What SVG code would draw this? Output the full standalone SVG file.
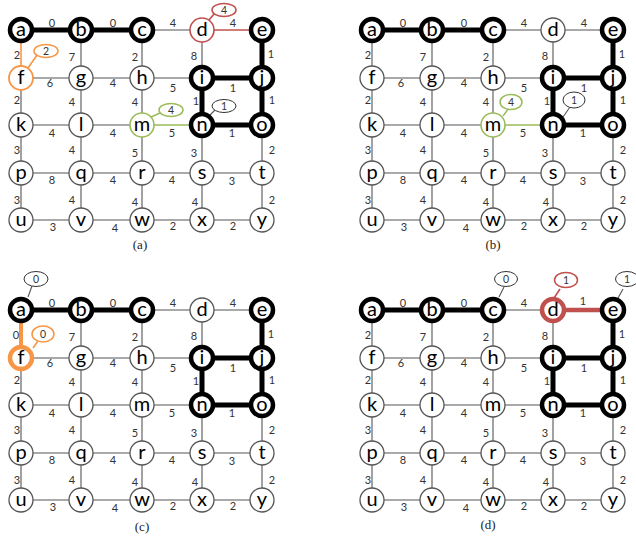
<svg xmlns="http://www.w3.org/2000/svg" width="636" height="541" viewBox="0 0 636 541">
<style>
line{stroke-linecap:butt}
.e{stroke:#555;stroke-width:1.1}
.eb{stroke:#000;stroke-width:5}
.er{stroke:#C0504D;stroke-width:1.6}
.erb{stroke:#C0504D;stroke-width:4.5}
.eo{stroke:#F79646;stroke-width:1.6}
.eob{stroke:#F79646;stroke-width:4}
.eg{stroke:#9BBB59;stroke-width:1.4}
.n{fill:#fff;stroke:#555;stroke-width:1.3}
.nb{fill:#fff;stroke:#000;stroke-width:4.5}
.nr{fill:#fff;stroke:#C0504D;stroke-width:1.6}
.nrb{fill:#fff;stroke:#C0504D;stroke-width:4.5}
.no{fill:#fff;stroke:#F79646;stroke-width:1.8}
.nob{fill:#fff;stroke:#F79646;stroke-width:4.5}
.ng{fill:#fff;stroke:#9BBB59;stroke-width:1.6}
.t{font-family:Lato,"DejaVu Sans",sans-serif;font-size:20px;text-anchor:middle;fill:#000}
.w text{font-family:Lato,"DejaVu Sans",sans-serif;font-size:11px;text-anchor:middle;fill:#333}
.cap{font-family:"Liberation Serif",serif;font-size:13px;text-anchor:middle;fill:#222}
.ck{fill:#fff;stroke:#333;stroke-width:1}
.cr{fill:#fff;stroke:#C0504D;stroke-width:1.5}
.co{fill:#fff;stroke:#F79646;stroke-width:1.5}
.cg{fill:#fff;stroke:#9BBB59;stroke-width:1.5}
.ct{font-family:Lato,"DejaVu Sans",sans-serif;font-size:10.5px;text-anchor:middle;fill:#333}
</style>
<rect width="636" height="541" fill="#fff"/>

<!-- ================= PANEL A ================= -->
<g id="panel-a">
<g id="pa-connectors">
<line class="eb" x1="21" y1="30" x2="81" y2="30"/>
<line class="eb" x1="81" y1="30" x2="142" y2="30"/>
<line class="e" x1="142" y1="30" x2="202" y2="30"/>
<line class="er" x1="202" y1="30" x2="262" y2="30"/>
<line class="e" x1="21" y1="78" x2="81" y2="78"/>
<line class="e" x1="81" y1="78" x2="142" y2="78"/>
<line class="e" x1="142" y1="78" x2="202" y2="78"/>
<line class="eb" x1="202" y1="78" x2="262" y2="78"/>
<line class="e" x1="21" y1="125" x2="81" y2="125"/>
<line class="e" x1="81" y1="125" x2="142" y2="125"/>
<line class="eg" x1="142" y1="125" x2="202" y2="125"/>
<line class="eb" x1="202" y1="125" x2="262" y2="125"/>
<line class="e" x1="21" y1="173" x2="81" y2="173"/>
<line class="e" x1="81" y1="173" x2="142" y2="173"/>
<line class="e" x1="142" y1="173" x2="202" y2="173"/>
<line class="e" x1="202" y1="173" x2="262" y2="173"/>
<line class="e" x1="21" y1="220" x2="81" y2="220"/>
<line class="e" x1="81" y1="220" x2="142" y2="220"/>
<line class="e" x1="142" y1="220" x2="202" y2="220"/>
<line class="e" x1="202" y1="220" x2="262" y2="220"/>
<line class="eo" x1="21" y1="30" x2="21" y2="78"/>
<line class="e" x1="81" y1="30" x2="81" y2="78"/>
<line class="e" x1="142" y1="30" x2="142" y2="78"/>
<line class="e" x1="202" y1="30" x2="202" y2="78"/>
<line class="eb" x1="262" y1="30" x2="262" y2="78"/>
<line class="e" x1="21" y1="78" x2="21" y2="125"/>
<line class="e" x1="81" y1="78" x2="81" y2="125"/>
<line class="e" x1="142" y1="78" x2="142" y2="125"/>
<line class="eb" x1="202" y1="78" x2="202" y2="125"/>
<line class="eb" x1="262" y1="78" x2="262" y2="125"/>
<line class="e" x1="21" y1="125" x2="21" y2="173"/>
<line class="e" x1="81" y1="125" x2="81" y2="173"/>
<line class="e" x1="142" y1="125" x2="142" y2="173"/>
<line class="e" x1="202" y1="125" x2="202" y2="173"/>
<line class="e" x1="262" y1="125" x2="262" y2="173"/>
<line class="e" x1="21" y1="173" x2="21" y2="220"/>
<line class="e" x1="81" y1="173" x2="81" y2="220"/>
<line class="e" x1="142" y1="173" x2="142" y2="220"/>
<line class="e" x1="202" y1="173" x2="202" y2="220"/>
<line class="e" x1="262" y1="173" x2="262" y2="220"/>
</g>
<g id="pa-weights" class="w">
<text x="52" y="27">0</text><text x="113" y="27">0</text><text x="173" y="27">4</text><text x="233" y="27">4</text>
<text x="50" y="87">6</text><text x="113" y="87">4</text><text x="173" y="92">5</text><text x="233" y="92">1</text>
<text x="52" y="137">4</text><text x="113" y="137">4</text><text x="172" y="137">5</text><text x="232" y="137">1</text>
<text x="52" y="184">8</text><text x="113" y="184">4</text><text x="172" y="184">4</text><text x="232" y="185">3</text>
<text x="53" y="231">3</text><text x="115" y="232">4</text><text x="173" y="230">2</text><text x="233" y="230">2</text>
<text x="17" y="59">2</text><text x="72" y="61">7</text><text x="135" y="61">2</text><text x="194" y="60">8</text><text x="271" y="58">1</text>
<text x="17" y="104">2</text><text x="72" y="106">4</text><text x="135" y="106">4</text><text x="196" y="105">1</text><text x="272" y="104">1</text>
<text x="17" y="154">3</text><text x="72" y="154">4</text><text x="135" y="157">5</text><text x="194" y="157">3</text><text x="272" y="154">2</text>
<text x="17" y="204">3</text><text x="72" y="204">4</text><text x="135" y="206">4</text><text x="195" y="206">4</text><text x="272" y="204">2</text>
</g>
<g id="pa-callouts">
<line class="er" x1="208" y1="21" x2="215" y2="13"/><ellipse class="cr" cx="224" cy="10" rx="12" ry="6.5"/><text class="ct" x="224" y="14">4</text>
<line class="eo" x1="28" y1="68" x2="37" y2="55"/><ellipse class="co" cx="46" cy="51" rx="12" ry="6.5"/><text class="ct" x="46" y="55">2</text>
<line class="eg" x1="151" y1="117" x2="160" y2="113"/><ellipse class="cg" cx="171" cy="110" rx="12" ry="6.5"/><text class="ct" x="171" y="114">4</text>
<line class="e" x1="210" y1="115" x2="216" y2="109"/><ellipse class="ck" cx="224" cy="106" rx="12" ry="6.5"/><text class="ct" x="224" y="110">1</text>
</g>
<g id="pa-a"><circle class="nb" cx="21" cy="30" r="11"/><text class="t" x="21" y="36">a</text></g>
<g id="pa-b"><circle class="nb" cx="81" cy="30" r="11"/><text class="t" x="81" y="36">b</text></g>
<g id="pa-c"><circle class="nb" cx="142" cy="30" r="11"/><text class="t" x="142" y="36">c</text></g>
<g id="pa-d"><circle class="nr" cx="202" cy="30" r="12"/><text class="t" x="202" y="36">d</text></g>
<g id="pa-e"><circle class="nb" cx="262" cy="30" r="11"/><text class="t" x="262" y="36">e</text></g>
<g id="pa-f"><circle class="no" cx="21" cy="78" r="12"/><text class="t" x="21" y="84">f</text></g>
<g id="pa-g"><circle class="n" cx="81" cy="78" r="12"/><text class="t" x="81" y="84">g</text></g>
<g id="pa-h"><circle class="n" cx="142" cy="78" r="12"/><text class="t" x="142" y="84">h</text></g>
<g id="pa-i"><circle class="nb" cx="202" cy="78" r="11"/><text class="t" x="202" y="84">i</text></g>
<g id="pa-j"><circle class="nb" cx="262" cy="78" r="11"/><text class="t" x="262" y="84">j</text></g>
<g id="pa-k"><circle class="n" cx="21" cy="125" r="12"/><text class="t" x="21" y="131">k</text></g>
<g id="pa-l"><circle class="n" cx="81" cy="125" r="12"/><text class="t" x="81" y="131">l</text></g>
<g id="pa-m"><circle class="ng" cx="142" cy="125" r="12"/><text class="t" x="142" y="131">m</text></g>
<g id="pa-n"><circle class="nb" cx="202" cy="125" r="11"/><text class="t" x="202" y="131">n</text></g>
<g id="pa-o"><circle class="nb" cx="262" cy="125" r="11"/><text class="t" x="262" y="131">o</text></g>
<g id="pa-p"><circle class="n" cx="21" cy="173" r="12"/><text class="t" x="21" y="179">p</text></g>
<g id="pa-q"><circle class="n" cx="81" cy="173" r="12"/><text class="t" x="81" y="179">q</text></g>
<g id="pa-r"><circle class="n" cx="142" cy="173" r="12"/><text class="t" x="142" y="179">r</text></g>
<g id="pa-s"><circle class="n" cx="202" cy="173" r="12"/><text class="t" x="202" y="179">s</text></g>
<g id="pa-t"><circle class="n" cx="262" cy="173" r="12"/><text class="t" x="262" y="179">t</text></g>
<g id="pa-u"><circle class="n" cx="21" cy="220" r="12"/><text class="t" x="21" y="226">u</text></g>
<g id="pa-v"><circle class="n" cx="81" cy="220" r="12"/><text class="t" x="81" y="226">v</text></g>
<g id="pa-w"><circle class="n" cx="142" cy="220" r="12"/><text class="t" x="142" y="226">w</text></g>
<g id="pa-x"><circle class="n" cx="202" cy="220" r="12"/><text class="t" x="202" y="226">x</text></g>
<g id="pa-y"><circle class="n" cx="262" cy="220" r="12"/><text class="t" x="262" y="226">y</text></g>
<text class="cap" x="140" y="249">(a)</text>
</g>

<!-- ================= PANEL B ================= -->
<g id="panel-b" transform="translate(351,0)">
<g id="pb-connectors">
<line class="eb" x1="21" y1="30" x2="81" y2="30"/>
<line class="eb" x1="81" y1="30" x2="142" y2="30"/>
<line class="e" x1="142" y1="30" x2="202" y2="30"/>
<line class="e" x1="202" y1="30" x2="262" y2="30"/>
<line class="e" x1="21" y1="78" x2="81" y2="78"/>
<line class="e" x1="81" y1="78" x2="142" y2="78"/>
<line class="e" x1="142" y1="78" x2="202" y2="78"/>
<line class="eb" x1="202" y1="78" x2="262" y2="78"/>
<line class="e" x1="21" y1="125" x2="81" y2="125"/>
<line class="e" x1="81" y1="125" x2="142" y2="125"/>
<line class="eg" x1="142" y1="125" x2="202" y2="125"/>
<line class="eb" x1="202" y1="125" x2="262" y2="125"/>
<line class="e" x1="21" y1="173" x2="81" y2="173"/>
<line class="e" x1="81" y1="173" x2="142" y2="173"/>
<line class="e" x1="142" y1="173" x2="202" y2="173"/>
<line class="e" x1="202" y1="173" x2="262" y2="173"/>
<line class="e" x1="21" y1="220" x2="81" y2="220"/>
<line class="e" x1="81" y1="220" x2="142" y2="220"/>
<line class="e" x1="142" y1="220" x2="202" y2="220"/>
<line class="e" x1="202" y1="220" x2="262" y2="220"/>
<line class="e" x1="21" y1="30" x2="21" y2="78"/>
<line class="e" x1="81" y1="30" x2="81" y2="78"/>
<line class="e" x1="142" y1="30" x2="142" y2="78"/>
<line class="e" x1="202" y1="30" x2="202" y2="78"/>
<line class="eb" x1="262" y1="30" x2="262" y2="78"/>
<line class="e" x1="21" y1="78" x2="21" y2="125"/>
<line class="e" x1="81" y1="78" x2="81" y2="125"/>
<line class="e" x1="142" y1="78" x2="142" y2="125"/>
<line class="eb" x1="202" y1="78" x2="202" y2="125"/>
<line class="eb" x1="262" y1="78" x2="262" y2="125"/>
<line class="e" x1="21" y1="125" x2="21" y2="173"/>
<line class="e" x1="81" y1="125" x2="81" y2="173"/>
<line class="e" x1="142" y1="125" x2="142" y2="173"/>
<line class="e" x1="202" y1="125" x2="202" y2="173"/>
<line class="e" x1="262" y1="125" x2="262" y2="173"/>
<line class="e" x1="21" y1="173" x2="21" y2="220"/>
<line class="e" x1="81" y1="173" x2="81" y2="220"/>
<line class="e" x1="142" y1="173" x2="142" y2="220"/>
<line class="e" x1="202" y1="173" x2="202" y2="220"/>
<line class="e" x1="262" y1="173" x2="262" y2="220"/>
</g>
<g id="pb-weights" class="w">
<text x="52" y="27">0</text><text x="113" y="27">0</text><text x="173" y="27">4</text><text x="233" y="27">4</text>
<text x="50" y="87">6</text><text x="113" y="87">4</text><text x="173" y="92">5</text><text x="233" y="92">1</text>
<text x="52" y="137">4</text><text x="113" y="137">4</text><text x="172" y="137">5</text><text x="232" y="137">1</text>
<text x="52" y="184">8</text><text x="113" y="184">4</text><text x="172" y="184">4</text><text x="232" y="185">3</text>
<text x="53" y="231">3</text><text x="115" y="232">4</text><text x="173" y="230">2</text><text x="233" y="230">2</text>
<text x="17" y="59">2</text><text x="72" y="61">7</text><text x="135" y="61">2</text><text x="194" y="60">8</text><text x="271" y="58">1</text>
<text x="17" y="104">2</text><text x="72" y="106">4</text><text x="135" y="106">4</text><text x="196" y="105">1</text><text x="272" y="104">1</text>
<text x="17" y="154">3</text><text x="72" y="154">4</text><text x="135" y="157">5</text><text x="194" y="157">3</text><text x="272" y="154">2</text>
<text x="17" y="204">3</text><text x="72" y="204">4</text><text x="135" y="206">4</text><text x="195" y="206">4</text><text x="272" y="204">2</text>
</g>
<g id="pb-callouts">
<line class="eg" x1="152" y1="116" x2="158" y2="108"/><ellipse class="cg" cx="160" cy="102" rx="11" ry="7.5"/><text class="ct" x="160" y="106">4</text>
<line class="e" x1="212" y1="117" x2="219" y2="107"/><ellipse class="ck" cx="223" cy="100" rx="11" ry="8"/><text class="ct" x="223" y="104">1</text>
</g>
<g id="pb-a"><circle class="nb" cx="21" cy="30" r="11"/><text class="t" x="21" y="36">a</text></g>
<g id="pb-b"><circle class="nb" cx="81" cy="30" r="11"/><text class="t" x="81" y="36">b</text></g>
<g id="pb-c"><circle class="nb" cx="142" cy="30" r="11"/><text class="t" x="142" y="36">c</text></g>
<g id="pb-d"><circle class="n" cx="202" cy="30" r="12"/><text class="t" x="202" y="36">d</text></g>
<g id="pb-e"><circle class="nb" cx="262" cy="30" r="11"/><text class="t" x="262" y="36">e</text></g>
<g id="pb-f"><circle class="n" cx="21" cy="78" r="12"/><text class="t" x="21" y="84">f</text></g>
<g id="pb-g"><circle class="n" cx="81" cy="78" r="12"/><text class="t" x="81" y="84">g</text></g>
<g id="pb-h"><circle class="n" cx="142" cy="78" r="12"/><text class="t" x="142" y="84">h</text></g>
<g id="pb-i"><circle class="nb" cx="202" cy="78" r="11"/><text class="t" x="202" y="84">i</text></g>
<g id="pb-j"><circle class="nb" cx="262" cy="78" r="11"/><text class="t" x="262" y="84">j</text></g>
<g id="pb-k"><circle class="n" cx="21" cy="125" r="12"/><text class="t" x="21" y="131">k</text></g>
<g id="pb-l"><circle class="n" cx="81" cy="125" r="12"/><text class="t" x="81" y="131">l</text></g>
<g id="pb-m"><circle class="ng" cx="142" cy="125" r="12"/><text class="t" x="142" y="131">m</text></g>
<g id="pb-n"><circle class="nb" cx="202" cy="125" r="11"/><text class="t" x="202" y="131">n</text></g>
<g id="pb-o"><circle class="nb" cx="262" cy="125" r="11"/><text class="t" x="262" y="131">o</text></g>
<g id="pb-p"><circle class="n" cx="21" cy="173" r="12"/><text class="t" x="21" y="179">p</text></g>
<g id="pb-q"><circle class="n" cx="81" cy="173" r="12"/><text class="t" x="81" y="179">q</text></g>
<g id="pb-r"><circle class="n" cx="142" cy="173" r="12"/><text class="t" x="142" y="179">r</text></g>
<g id="pb-s"><circle class="n" cx="202" cy="173" r="12"/><text class="t" x="202" y="179">s</text></g>
<g id="pb-t"><circle class="n" cx="262" cy="173" r="12"/><text class="t" x="262" y="179">t</text></g>
<g id="pb-u"><circle class="n" cx="21" cy="220" r="12"/><text class="t" x="21" y="226">u</text></g>
<g id="pb-v"><circle class="n" cx="81" cy="220" r="12"/><text class="t" x="81" y="226">v</text></g>
<g id="pb-w"><circle class="n" cx="142" cy="220" r="12"/><text class="t" x="142" y="226">w</text></g>
<g id="pb-x"><circle class="n" cx="202" cy="220" r="12"/><text class="t" x="202" y="226">x</text></g>
<g id="pb-y"><circle class="n" cx="262" cy="220" r="12"/><text class="t" x="262" y="226">y</text></g>
<text class="cap" x="142" y="249">(b)</text>
</g>

<!-- ================= PANEL C ================= -->
<g id="panel-c" transform="translate(0,280)">
<g id="pc-connectors">
<line class="eb" x1="21" y1="30" x2="81" y2="30"/>
<line class="eb" x1="81" y1="30" x2="142" y2="30"/>
<line class="e" x1="142" y1="30" x2="202" y2="30"/>
<line class="e" x1="202" y1="30" x2="262" y2="30"/>
<line class="e" x1="21" y1="78" x2="81" y2="78"/>
<line class="e" x1="81" y1="78" x2="142" y2="78"/>
<line class="e" x1="142" y1="78" x2="202" y2="78"/>
<line class="eb" x1="202" y1="78" x2="262" y2="78"/>
<line class="e" x1="21" y1="125" x2="81" y2="125"/>
<line class="e" x1="81" y1="125" x2="142" y2="125"/>
<line class="e" x1="142" y1="125" x2="202" y2="125"/>
<line class="eb" x1="202" y1="125" x2="262" y2="125"/>
<line class="e" x1="21" y1="173" x2="81" y2="173"/>
<line class="e" x1="81" y1="173" x2="142" y2="173"/>
<line class="e" x1="142" y1="173" x2="202" y2="173"/>
<line class="e" x1="202" y1="173" x2="262" y2="173"/>
<line class="e" x1="21" y1="220" x2="81" y2="220"/>
<line class="e" x1="81" y1="220" x2="142" y2="220"/>
<line class="e" x1="142" y1="220" x2="202" y2="220"/>
<line class="e" x1="202" y1="220" x2="262" y2="220"/>
<line class="eob" x1="21" y1="30" x2="21" y2="78"/>
<line class="e" x1="81" y1="30" x2="81" y2="78"/>
<line class="e" x1="142" y1="30" x2="142" y2="78"/>
<line class="e" x1="202" y1="30" x2="202" y2="78"/>
<line class="eb" x1="262" y1="30" x2="262" y2="78"/>
<line class="e" x1="21" y1="78" x2="21" y2="125"/>
<line class="e" x1="81" y1="78" x2="81" y2="125"/>
<line class="e" x1="142" y1="78" x2="142" y2="125"/>
<line class="eb" x1="202" y1="78" x2="202" y2="125"/>
<line class="eb" x1="262" y1="78" x2="262" y2="125"/>
<line class="e" x1="21" y1="125" x2="21" y2="173"/>
<line class="e" x1="81" y1="125" x2="81" y2="173"/>
<line class="e" x1="142" y1="125" x2="142" y2="173"/>
<line class="e" x1="202" y1="125" x2="202" y2="173"/>
<line class="e" x1="262" y1="125" x2="262" y2="173"/>
<line class="e" x1="21" y1="173" x2="21" y2="220"/>
<line class="e" x1="81" y1="173" x2="81" y2="220"/>
<line class="e" x1="142" y1="173" x2="142" y2="220"/>
<line class="e" x1="202" y1="173" x2="202" y2="220"/>
<line class="e" x1="262" y1="173" x2="262" y2="220"/>
</g>
<g id="pc-weights" class="w">
<text x="52" y="27">0</text><text x="113" y="27">0</text><text x="173" y="27">4</text><text x="233" y="27">4</text>
<text x="50" y="87">6</text><text x="113" y="87">4</text><text x="173" y="92">5</text><text x="233" y="92">1</text>
<text x="52" y="137">4</text><text x="113" y="137">4</text><text x="172" y="137">5</text><text x="232" y="137">1</text>
<text x="52" y="184">8</text><text x="113" y="184">4</text><text x="172" y="184">4</text><text x="232" y="185">3</text>
<text x="53" y="231">3</text><text x="115" y="232">4</text><text x="173" y="230">2</text><text x="233" y="230">2</text>
<text x="16" y="59">0</text><text x="72" y="61">7</text><text x="135" y="61">2</text><text x="194" y="60">8</text><text x="271" y="58">1</text>
<text x="17" y="104">2</text><text x="72" y="106">4</text><text x="135" y="106">4</text><text x="196" y="105">1</text><text x="272" y="104">1</text>
<text x="17" y="154">3</text><text x="72" y="154">4</text><text x="135" y="157">5</text><text x="194" y="157">3</text><text x="272" y="154">2</text>
<text x="17" y="204">3</text><text x="72" y="204">4</text><text x="135" y="206">4</text><text x="195" y="206">4</text><text x="272" y="204">2</text>
</g>
<g id="pc-callouts">
<line class="e" x1="28" y1="17" x2="32" y2="6"/><ellipse class="ck" cx="36" cy="-1" rx="12" ry="7.5"/><text class="ct" x="36" y="3">0</text>
<line class="eo" x1="33" y1="68" x2="38" y2="61"/><ellipse class="co" cx="43" cy="54" rx="11" ry="8"/><text class="ct" x="43" y="58">0</text>
</g>
<g id="pc-a"><circle class="nb" cx="21" cy="30" r="11"/><text class="t" x="21" y="36">a</text></g>
<g id="pc-b"><circle class="nb" cx="81" cy="30" r="11"/><text class="t" x="81" y="36">b</text></g>
<g id="pc-c"><circle class="nb" cx="142" cy="30" r="11"/><text class="t" x="142" y="36">c</text></g>
<g id="pc-d"><circle class="n" cx="202" cy="30" r="12"/><text class="t" x="202" y="36">d</text></g>
<g id="pc-e"><circle class="nb" cx="262" cy="30" r="11"/><text class="t" x="262" y="36">e</text></g>
<g id="pc-f"><circle class="nob" cx="21" cy="78" r="11"/><text class="t" x="21" y="84">f</text></g>
<g id="pc-g"><circle class="n" cx="81" cy="78" r="12"/><text class="t" x="81" y="84">g</text></g>
<g id="pc-h"><circle class="n" cx="142" cy="78" r="12"/><text class="t" x="142" y="84">h</text></g>
<g id="pc-i"><circle class="nb" cx="202" cy="78" r="11"/><text class="t" x="202" y="84">i</text></g>
<g id="pc-j"><circle class="nb" cx="262" cy="78" r="11"/><text class="t" x="262" y="84">j</text></g>
<g id="pc-k"><circle class="n" cx="21" cy="125" r="12"/><text class="t" x="21" y="131">k</text></g>
<g id="pc-l"><circle class="n" cx="81" cy="125" r="12"/><text class="t" x="81" y="131">l</text></g>
<g id="pc-m"><circle class="n" cx="142" cy="125" r="12"/><text class="t" x="142" y="131">m</text></g>
<g id="pc-n"><circle class="nb" cx="202" cy="125" r="11"/><text class="t" x="202" y="131">n</text></g>
<g id="pc-o"><circle class="nb" cx="262" cy="125" r="11"/><text class="t" x="262" y="131">o</text></g>
<g id="pc-p"><circle class="n" cx="21" cy="173" r="12"/><text class="t" x="21" y="179">p</text></g>
<g id="pc-q"><circle class="n" cx="81" cy="173" r="12"/><text class="t" x="81" y="179">q</text></g>
<g id="pc-r"><circle class="n" cx="142" cy="173" r="12"/><text class="t" x="142" y="179">r</text></g>
<g id="pc-s"><circle class="n" cx="202" cy="173" r="12"/><text class="t" x="202" y="179">s</text></g>
<g id="pc-t"><circle class="n" cx="262" cy="173" r="12"/><text class="t" x="262" y="179">t</text></g>
<g id="pc-u"><circle class="n" cx="21" cy="220" r="12"/><text class="t" x="21" y="226">u</text></g>
<g id="pc-v"><circle class="n" cx="81" cy="220" r="12"/><text class="t" x="81" y="226">v</text></g>
<g id="pc-w"><circle class="n" cx="142" cy="220" r="12"/><text class="t" x="142" y="226">w</text></g>
<g id="pc-x"><circle class="n" cx="202" cy="220" r="12"/><text class="t" x="202" y="226">x</text></g>
<g id="pc-y"><circle class="n" cx="262" cy="220" r="12"/><text class="t" x="262" y="226">y</text></g>
<text class="cap" x="142" y="251">(c)</text>
</g>

<!-- ================= PANEL D ================= -->
<g id="panel-d" transform="translate(351,280)">
<g id="pd-connectors">
<line class="eb" x1="21" y1="30" x2="81" y2="30"/>
<line class="eb" x1="81" y1="30" x2="142" y2="30"/>
<line class="e" x1="142" y1="30" x2="202" y2="30"/>
<line class="erb" x1="202" y1="30" x2="262" y2="30"/>
<line class="e" x1="21" y1="78" x2="81" y2="78"/>
<line class="e" x1="81" y1="78" x2="142" y2="78"/>
<line class="e" x1="142" y1="78" x2="202" y2="78"/>
<line class="eb" x1="202" y1="78" x2="262" y2="78"/>
<line class="e" x1="21" y1="125" x2="81" y2="125"/>
<line class="e" x1="81" y1="125" x2="142" y2="125"/>
<line class="e" x1="142" y1="125" x2="202" y2="125"/>
<line class="eb" x1="202" y1="125" x2="262" y2="125"/>
<line class="e" x1="21" y1="173" x2="81" y2="173"/>
<line class="e" x1="81" y1="173" x2="142" y2="173"/>
<line class="e" x1="142" y1="173" x2="202" y2="173"/>
<line class="e" x1="202" y1="173" x2="262" y2="173"/>
<line class="e" x1="21" y1="220" x2="81" y2="220"/>
<line class="e" x1="81" y1="220" x2="142" y2="220"/>
<line class="e" x1="142" y1="220" x2="202" y2="220"/>
<line class="e" x1="202" y1="220" x2="262" y2="220"/>
<line class="e" x1="21" y1="30" x2="21" y2="78"/>
<line class="e" x1="81" y1="30" x2="81" y2="78"/>
<line class="e" x1="142" y1="30" x2="142" y2="78"/>
<line class="e" x1="202" y1="30" x2="202" y2="78"/>
<line class="eb" x1="262" y1="30" x2="262" y2="78"/>
<line class="e" x1="21" y1="78" x2="21" y2="125"/>
<line class="e" x1="81" y1="78" x2="81" y2="125"/>
<line class="e" x1="142" y1="78" x2="142" y2="125"/>
<line class="eb" x1="202" y1="78" x2="202" y2="125"/>
<line class="eb" x1="262" y1="78" x2="262" y2="125"/>
<line class="e" x1="21" y1="125" x2="21" y2="173"/>
<line class="e" x1="81" y1="125" x2="81" y2="173"/>
<line class="e" x1="142" y1="125" x2="142" y2="173"/>
<line class="e" x1="202" y1="125" x2="202" y2="173"/>
<line class="e" x1="262" y1="125" x2="262" y2="173"/>
<line class="e" x1="21" y1="173" x2="21" y2="220"/>
<line class="e" x1="81" y1="173" x2="81" y2="220"/>
<line class="e" x1="142" y1="173" x2="142" y2="220"/>
<line class="e" x1="202" y1="173" x2="202" y2="220"/>
<line class="e" x1="262" y1="173" x2="262" y2="220"/>
</g>
<g id="pd-weights" class="w">
<text x="52" y="27">0</text><text x="113" y="27">0</text><text x="173" y="27">4</text><text x="232" y="25">1</text>
<text x="50" y="87">6</text><text x="113" y="87">4</text><text x="173" y="92">5</text><text x="233" y="92">1</text>
<text x="52" y="137">4</text><text x="113" y="137">4</text><text x="172" y="137">5</text><text x="232" y="137">1</text>
<text x="52" y="184">8</text><text x="113" y="184">4</text><text x="172" y="184">4</text><text x="232" y="185">3</text>
<text x="53" y="231">3</text><text x="115" y="232">4</text><text x="173" y="230">2</text><text x="233" y="230">2</text>
<text x="17" y="59">2</text><text x="72" y="61">7</text><text x="135" y="61">2</text><text x="194" y="60">8</text><text x="271" y="58">1</text>
<text x="17" y="104">2</text><text x="72" y="106">4</text><text x="135" y="106">4</text><text x="196" y="105">1</text><text x="272" y="104">1</text>
<text x="17" y="154">3</text><text x="72" y="154">4</text><text x="135" y="157">5</text><text x="194" y="157">3</text><text x="272" y="154">2</text>
<text x="17" y="204">3</text><text x="72" y="204">4</text><text x="135" y="206">4</text><text x="195" y="206">4</text><text x="272" y="204">2</text>
</g>
<g id="pd-callouts">
<line class="e" x1="148" y1="17" x2="153" y2="7"/><ellipse class="ck" cx="155" cy="-1" rx="11.5" ry="7.5"/><text class="ct" x="155" y="3">0</text>
<line class="er" x1="203" y1="18" x2="209" y2="9"/><ellipse class="cr" cx="215" cy="0" rx="11.5" ry="7.5"/><text class="ct" x="215" y="4">1</text>
<line class="e" x1="267" y1="18" x2="272" y2="9"/><ellipse class="ck" cx="276" cy="-1" rx="11.5" ry="7.5"/><text class="ct" x="276" y="3">1</text>
</g>
<g id="pd-a"><circle class="nb" cx="21" cy="30" r="11"/><text class="t" x="21" y="36">a</text></g>
<g id="pd-b"><circle class="nb" cx="81" cy="30" r="11"/><text class="t" x="81" y="36">b</text></g>
<g id="pd-c"><circle class="nb" cx="142" cy="30" r="11"/><text class="t" x="142" y="36">c</text></g>
<g id="pd-d"><circle class="nrb" cx="202" cy="30" r="11"/><text class="t" x="202" y="36">d</text></g>
<g id="pd-e"><circle class="nb" cx="262" cy="30" r="11"/><text class="t" x="262" y="36">e</text></g>
<g id="pd-f"><circle class="n" cx="21" cy="78" r="12"/><text class="t" x="21" y="84">f</text></g>
<g id="pd-g"><circle class="n" cx="81" cy="78" r="12"/><text class="t" x="81" y="84">g</text></g>
<g id="pd-h"><circle class="n" cx="142" cy="78" r="12"/><text class="t" x="142" y="84">h</text></g>
<g id="pd-i"><circle class="nb" cx="202" cy="78" r="11"/><text class="t" x="202" y="84">i</text></g>
<g id="pd-j"><circle class="nb" cx="262" cy="78" r="11"/><text class="t" x="262" y="84">j</text></g>
<g id="pd-k"><circle class="n" cx="21" cy="125" r="12"/><text class="t" x="21" y="131">k</text></g>
<g id="pd-l"><circle class="n" cx="81" cy="125" r="12"/><text class="t" x="81" y="131">l</text></g>
<g id="pd-m"><circle class="n" cx="142" cy="125" r="12"/><text class="t" x="142" y="131">m</text></g>
<g id="pd-n"><circle class="nb" cx="202" cy="125" r="11"/><text class="t" x="202" y="131">n</text></g>
<g id="pd-o"><circle class="nb" cx="262" cy="125" r="11"/><text class="t" x="262" y="131">o</text></g>
<g id="pd-p"><circle class="n" cx="21" cy="173" r="12"/><text class="t" x="21" y="179">p</text></g>
<g id="pd-q"><circle class="n" cx="81" cy="173" r="12"/><text class="t" x="81" y="179">q</text></g>
<g id="pd-r"><circle class="n" cx="142" cy="173" r="12"/><text class="t" x="142" y="179">r</text></g>
<g id="pd-s"><circle class="n" cx="202" cy="173" r="12"/><text class="t" x="202" y="179">s</text></g>
<g id="pd-t"><circle class="n" cx="262" cy="173" r="12"/><text class="t" x="262" y="179">t</text></g>
<g id="pd-u"><circle class="n" cx="21" cy="220" r="12"/><text class="t" x="21" y="226">u</text></g>
<g id="pd-v"><circle class="n" cx="81" cy="220" r="12"/><text class="t" x="81" y="226">v</text></g>
<g id="pd-w"><circle class="n" cx="142" cy="220" r="12"/><text class="t" x="142" y="226">w</text></g>
<g id="pd-x"><circle class="n" cx="202" cy="220" r="12"/><text class="t" x="202" y="226">x</text></g>
<g id="pd-y"><circle class="n" cx="262" cy="220" r="12"/><text class="t" x="262" y="226">y</text></g>
<text class="cap" x="137" y="249">(d)</text>
</g>
</svg>
